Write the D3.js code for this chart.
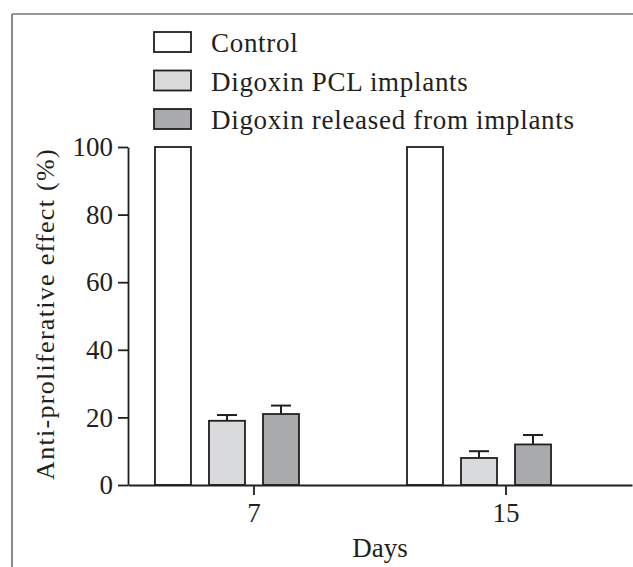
<!DOCTYPE html>
<html>
<head>
<meta charset="utf-8">
<script src="https://cdn.jsdelivr.net/npm/d3@7"></script>
<style>
  body { margin: 0; background: #fff; }
  svg { display: block; font-family: "Liberation Serif", "Times New Roman", serif; }
</style>
</head>
<body>
<div id="chart"></div>
<script>
// Chart data
const days = ["7", "15"];
const series = ["Control", "Digoxin PCL implants", "Digoxin released from implants"];
const seriesColors = ["#ffffff", "#d9dadb", "#a9aaac"];
const control = [100, 100];
const pclImplants = [19, 8];
const released = [21, 12];
const pclErr = [1.7, 2];
const releasedErr = [2.5, 2.8];
const yTicks = [0, 20, 40, 60, 80, 100];

const width = 633;
const height = 567;
const margin = {left: 128, right: 1, top: 147, bottom: 82};
const ink = "#231f20";

const svg = d3.select("#chart")
  .append("svg")
  .attr("width", width)
  .attr("height", height);

// outer frame (only top and left show in the crop)
svg.append("line").attr("x1", 12).attr("x2", width).attr("y1", 14).attr("y2", 14)
  .attr("stroke", "#333").attr("stroke-width", 1.2);
svg.append("line").attr("x1", 12).attr("x2", 12).attr("y1", 14).attr("y2", height)
  .attr("stroke", "#888").attr("stroke-width", 2);

// scales
const yScale = d3.scaleLinear()
  .domain([0, 100])
  .range([height - margin.bottom, margin.top]);

const xScale = d3.scaleBand()
  .domain(days)
  .range([margin.left, width - margin.right])
  .paddingInner(54 / 252)
  .paddingOuter(0.107);

// 4 slots per group, the last one stays empty (Prism style)
const slots = [0, 1, 2, 3];
const xInner = d3.scaleBand()
  .domain(slots)
  .range([0, xScale.bandwidth()])
  .paddingInner(1 / 3)
  .paddingOuter(0);

// bar rows
const values = [control, pclImplants, released];
const errs = [null, pclErr, releasedErr];
const bars = [];
days.forEach((day, di) => {
  series.forEach((s, si) => {
    bars.push({day: day, s: si, v: values[si][di], e: errs[si] ? errs[si][di] : 0});
  });
});

// error bars (drawn first so bars sit on top of the stem)
const errG = svg.append("g");
bars.filter(d => d.e > 0).forEach(d => {
  const cx = xScale(d.day) + xInner(d.s) + xInner.bandwidth() / 2;
  errG.append("line")
    .attr("x1", cx).attr("x2", cx)
    .attr("y1", yScale(d.v)).attr("y2", yScale(d.v + d.e))
    .attr("stroke", ink).attr("stroke-width", 2);
  errG.append("line")
    .attr("x1", cx - 10).attr("x2", cx + 10)
    .attr("y1", yScale(d.v + d.e)).attr("y2", yScale(d.v + d.e))
    .attr("stroke", ink).attr("stroke-width", 2);
});

svg.selectAll(".bar")
  .data(bars)
  .enter()
  .append("rect")
    .attr("class", "bar")
    .attr("x", d => xScale(d.day) + xInner(d.s))
    .attr("y", d => yScale(d.v))
    .attr("width", xInner.bandwidth())
    .attr("height", d => yScale(0) - yScale(d.v))
    .attr("fill", d => seriesColors[d.s])
    .attr("stroke", ink)
    .attr("stroke-width", 1.8);

// axes
const yAxis = svg.append("g")
  .attr("transform", `translate(${margin.left},0)`)
  .call(d3.axisLeft(yScale).tickValues(yTicks).tickSize(10).tickSizeOuter(0).tickPadding(5));

const xAxis = svg.append("g")
  .attr("transform", `translate(0,${height - margin.bottom})`)
  .call(d3.axisBottom(xScale).tickSize(10).tickSizeOuter(0).tickPadding(8));

[yAxis, xAxis].forEach(ax => {
  ax.selectAll("path, line").attr("stroke", ink).attr("stroke-width", 1.8);
  ax.selectAll("text").attr("fill", ink).attr("font-size", "27px")
    .attr("font-family", "Liberation Serif, Times New Roman, serif");
});

// axis titles
svg.append("text")
  .attr("x", (margin.left + width - margin.right) / 2)
  .attr("y", 557)
  .attr("text-anchor", "middle")
  .attr("font-size", "27px")
  .attr("fill", ink)
  .text("Days");

svg.append("text")
  .attr("transform", "translate(54,314) rotate(-90)")
  .attr("text-anchor", "middle")
  .attr("font-size", "26px")
  .attr("letter-spacing", "1.3px")
  .attr("fill", ink)
  .text("Anti-proliferative effect (%)");

// legend
const legend = svg.append("g").attr("transform", "translate(154,32)");
series.forEach((s, i) => {
  const row = legend.append("g").attr("transform", `translate(0,${i * 38.5})`);
  row.append("rect")
    .attr("width", 37).attr("height", 20)
    .attr("fill", seriesColors[i])
    .attr("stroke", ink).attr("stroke-width", 1.8);
  row.append("text")
    .attr("x", 57).attr("y", 20)
    .attr("font-size", "27px")
    .attr("letter-spacing", "0.7px")
    .attr("fill", ink)
    .text(s);
});
</script>
</body>
</html>
